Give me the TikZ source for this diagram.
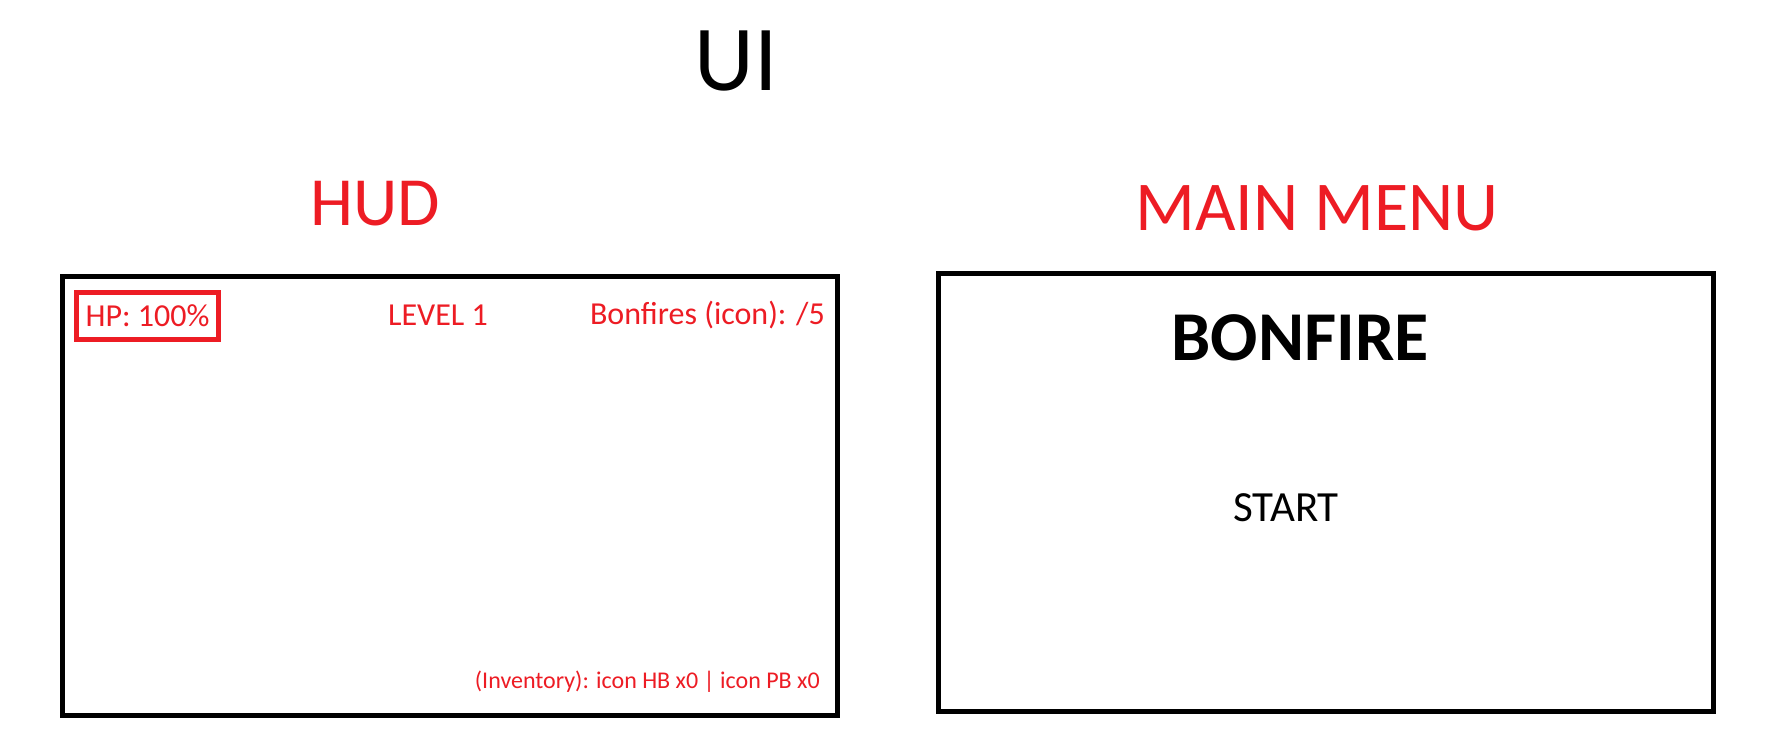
\documentclass[tikz,border=0pt]{standalone}
\usepackage{fontspec}
\setmainfont{Carlito}
\definecolor{paintred}{RGB}{237,28,36}
\tikzset{
  fs/.style={font=\fontsize{#1}{#1}\selectfont},
  redtxt/.style={text=paintred, inner sep=0pt},
  blacktxt/.style={text=black, inner sep=0pt},
  screen/.style={draw=black, line width=5pt, minimum width=775pt, inner sep=0pt},
}
\begin{document}
\begin{tikzpicture}[x=1pt,y=-1pt]
\useasboundingbox[fill=white] (0,0) rectangle (1768,755);
% titles
\node[blacktxt, fs=93, anchor=base] (ui) at (736,90) {UI};
\node[redtxt, fs=69, anchor=base] (hudtitle) at (375,225) {HUD};
\node[redtxt, fs=70, anchor=base] (mmtitle) at (1317,230) {MAIN MENU};
% HUD screen
\node[screen, minimum height=439pt] (hud) at (450,496) {};
\node[redtxt, fs=32, draw=paintred, line width=5pt, minimum width=142pt, minimum height=47pt] (hp) at (147.5,316) {HP: 100\%};
\node[redtxt, fs=32, anchor=base] (level) at (438,325) {LEVEL 1};
\node[redtxt, fs=32, anchor=base east] (bonfires) at (825,324) {Bonfires (icon): /5};
\node[redtxt, fs=24, anchor=base east] (inv) at (820,688) {(Inventory): icon HB x0 | icon PB x0};
% Main menu screen
\node[screen, minimum height=438pt] (mm) at (1326,492.5) {};
\node[blacktxt, fs=70, anchor=base] (bonfire) at (1300,360) {\bfseries BONFIRE};
\node[blacktxt, fs=43, anchor=base] (start) at (1286,521) {START};
\end{tikzpicture}
\end{document}
